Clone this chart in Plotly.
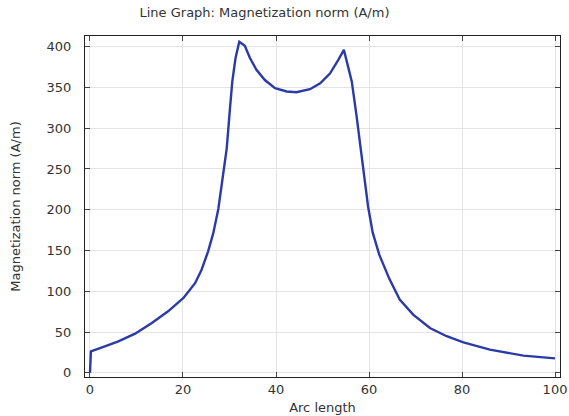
import plotly.graph_objects as go

arc_length = [0, 0.2, 3.2, 6.1, 9.7, 13.3, 16.8, 20.1, 22.6, 24.0, 25.4, 26.5, 27.6, 28.5,
              29.4, 30.1, 30.6, 31.3, 32.1, 33.3, 34.4, 35.8, 37.6, 39.8, 42.3, 44.4,
              47.3, 49.5, 51.6, 53.4, 54.6, 55.5, 56.3, 57.3, 58.3, 59.1, 59.8, 60.8,
              62.2, 64.4, 66.6, 69.5, 73.1, 76.7, 80.3, 86.0, 93.2, 100.0]
magnetization = [0, 26.5, 32.6, 38.7, 48.1, 61.2, 75.5, 91.8, 110, 126.5, 149, 171, 201, 238,
                 275, 324, 357, 386, 406, 401, 386, 371.5, 359, 349, 345, 344,
                 347.8, 355, 367, 383.7, 396, 375.5, 357, 316, 270, 232, 204, 172,
                 145, 115, 90, 71.5, 55, 45, 37.5, 28.5, 21.2, 17.8]

x_ticks = [0, 20, 40, 60, 80, 100]
y_ticks = [0, 50, 100, 150, 200, 250, 300, 350, 400]

font = "DejaVu Sans"

fig = go.Figure()
fig.add_trace(go.Scatter(x=arc_length, y=magnetization, mode="lines",
                         line=dict(color="#2c3aa8", width=2.4), showlegend=False))

axis_common = dict(
    showline=True, linecolor="#222222", linewidth=1.2, mirror="ticks",
    ticks="inside", ticklen=5, tickcolor="#444444",
    showgrid=True, gridcolor="#e4e4e4", gridwidth=1, zeroline=False,
    tickfont=dict(family=font, size=13, color="#333333"),
    automargin=False,
)

fig.update_layout(
    width=569, height=416,
    margin=dict(l=85, r=9, t=36, b=39),
    paper_bgcolor="white", plot_bgcolor="white",
    title=dict(text="Line Graph: Magnetization norm (A/m)", x=264.5 / 569, xref="container",
               xanchor="center", y=1 - 12.5 / 416, yref="container", yanchor="middle",
               font=dict(family=font, size=13, color="#333333")),
    xaxis=dict(range=[-1.07, 101.07], tickvals=x_ticks, ticklabelstandoff=0,
               title=dict(text="Arc length", font=dict(family=font, size=13, color="#333333"),
                          standoff=7),
               **axis_common),
    yaxis=dict(range=[-5, 413], tickvals=y_ticks, ticklabelstandoff=10,
               title=dict(text="Magnetization norm (A/m)",
                          font=dict(family=font, size=13, color="#333333"), standoff=22),
               **axis_common),
)

fig.write_html("out.html")
